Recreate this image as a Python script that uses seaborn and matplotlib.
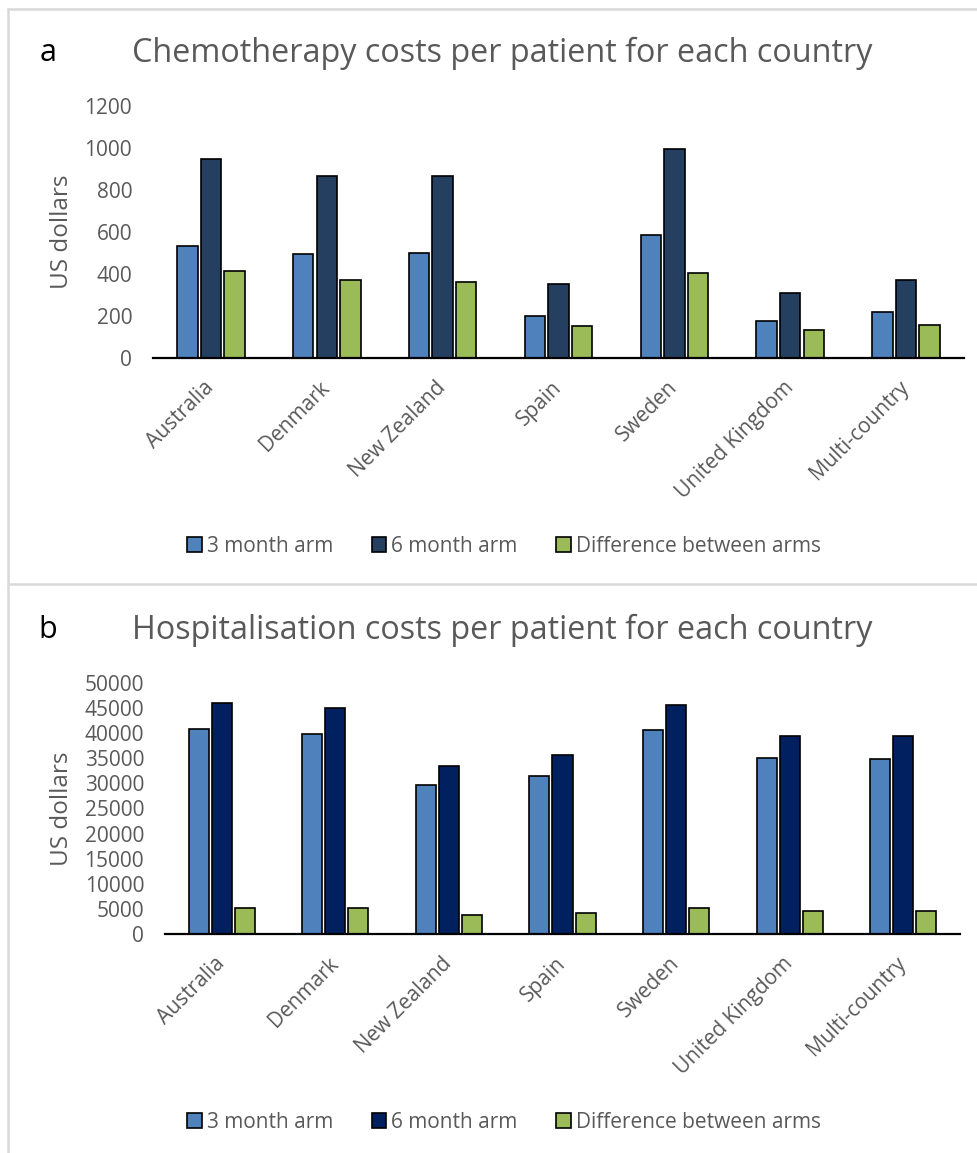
import matplotlib
matplotlib.use("Agg")
import matplotlib.pyplot as plt
from matplotlib.patches import Patch
from matplotlib.lines import Line2D
import seaborn as sns
import pandas as pd

countries = ["Australia", "Denmark", "New Zealand", "Spain", "Sweden",
             "United Kingdom", "Multi-country"]
series = ["3 month arm", "6 month arm", "Difference between arms"]

chemo_3m = [533, 497, 502, 200, 586, 177, 217]
chemo_6m = [947, 869, 865, 353, 993, 311, 373]
chemo_diff = [414, 372, 363, 153, 407, 134, 156]

hosp_3m = [40900, 39900, 29700, 31500, 40600, 35000, 34900]
hosp_6m = [46100, 45100, 33500, 35600, 45700, 39500, 39400]
hosp_diff = [5200, 5200, 3800, 4100, 5100, 4500, 4500]

chemo_ticks = [0, 200, 400, 600, 800, 1000, 1200]
hosp_ticks = list(range(0, 50001, 5000))

TEXT = "#595959"
FONT = ["Open Sans", "DejaVu Sans"]

sns.set_style("white")
plt.rcParams["font.family"] = FONT


def long_frame(a, b, c):
    return pd.DataFrame({
        "country": countries * 3,
        "arm": [series[0]] * 7 + [series[1]] * 7 + [series[2]] * 7,
        "cost": list(a) + list(b) + list(c),
    })


fig = plt.figure(figsize=(9.78, 11.53), dpi=100)

# light frame lines around the two panels
for line in [
    Line2D([8 / 978, 8 / 978], [0, 1 - 9 / 1153]),
    Line2D([8 / 978, 1], [1 - 9 / 1153, 1 - 9 / 1153]),
    Line2D([8 / 978, 1], [1 - 584 / 1153, 1 - 584 / 1153]),
]:
    line.set_color("#D9D9D9")
    line.set_linewidth(1.8)
    line.set_transform(fig.transFigure)
    fig.add_artist(line)

panels = [
    dict(rect=[153 / 978, 1 - 358 / 1153, (964 - 153) / 978, (358 - 106) / 1153],
         data=long_frame(chemo_3m, chemo_6m, chemo_diff),
         colors=["#4F81BD", "#243F60", "#9BBB59"],
         ticks=chemo_ticks, ylim=1200,
         letter="a", title="Chemotherapy costs per patient for each country",
         title_y=53, legend_y=546, ylabel_x=62),
    dict(rect=[165 / 978, 1 - 934 / 1153, (960 - 165) / 978, (934 - 683) / 1153],
         data=long_frame(hosp_3m, hosp_6m, hosp_diff),
         colors=["#4F81BD", "#002060", "#9BBB59"],
         ticks=hosp_ticks, ylim=50000,
         letter="b", title="Hospitalisation costs per patient for each country",
         title_y=630, legend_y=1122, ylabel_x=62),
]

for p in panels:
    ax = fig.add_axes(p["rect"])
    sns.barplot(data=p["data"], x="country", y="cost", hue="arm",
                hue_order=series, palette=p["colors"], width=0.61, gap=0.13,
                edgecolor="black", linewidth=1.2, saturation=1, ax=ax,
                legend=False)
    ax.set_xlim(-0.5, len(countries) - 0.5)
    ax.set_ylim(0, p["ylim"])
    ax.set_yticks(p["ticks"])
    ax.set_yticklabels([str(t) for t in p["ticks"]])
    ax.tick_params(axis="y", length=0, pad=15, labelsize=15, labelcolor=TEXT)
    ax.tick_params(axis="x", length=0, pad=19, labelsize=15, labelcolor=TEXT)
    for lab in ax.get_xticklabels():
        lab.set_rotation(45)
        lab.set_ha("right")
        lab.set_va("center")
        lab.set_rotation_mode("anchor")
    for side in ["top", "right", "left"]:
        ax.spines[side].set_visible(False)
    ax.spines["bottom"].set_color("black")
    ax.spines["bottom"].set_linewidth(1.6)
    ax.set_xlabel("")
    ax.set_ylabel("")

    # y label placed in figure space
    fig.text(p["ylabel_x"] / 978, p["rect"][1] + p["rect"][3] / 2, "US dollars",
             rotation=90, ha="center", va="center", fontsize=17.5, color=TEXT)

    fig.text(48 / 978, 1 - p["title_y"] / 1153, p["letter"], ha="center",
             va="center", fontsize=22, color="black")
    fig.text(502 / 978, 1 - p["title_y"] / 1153, p["title"], ha="center",
             va="center", fontsize=23.3, color=TEXT)

    handles = [Patch(facecolor=c, edgecolor="black", linewidth=1.2)
               for c in p["colors"]]
    fig.legend(handles, series, loc="center", ncol=3,
               bbox_to_anchor=(504 / 978, 1 - p["legend_y"] / 1153),
               frameon=False, fontsize=15, labelcolor=TEXT,
               handlelength=0.7, handleheight=0.7, handletextpad=0.25,
               columnspacing=1.85)

fig.savefig("out.png", dpi=100, facecolor="white")
